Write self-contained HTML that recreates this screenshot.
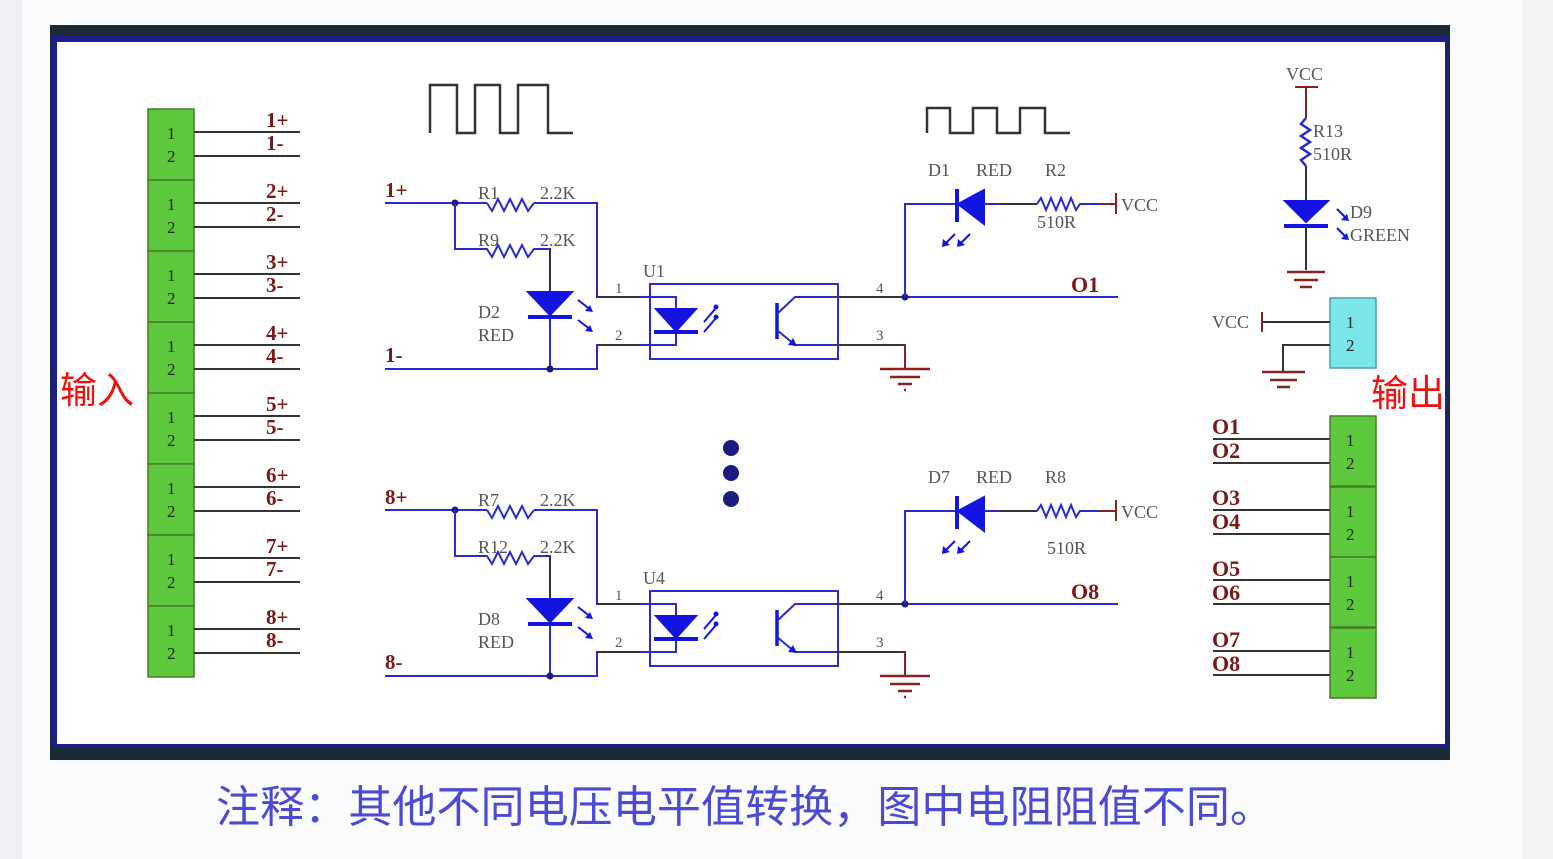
<!DOCTYPE html>
<html><head><meta charset="utf-8"><style>
html,body{margin:0;padding:0;background:#fbfcfd;}
body{width:1553px;height:859px;overflow:hidden;position:relative;}
svg{position:absolute;left:0;top:0;}
</style></head><body>
<svg width="1553" height="859" viewBox="0 0 1553 859" xmlns="http://www.w3.org/2000/svg">
<rect x="0" y="0" width="22" height="859" fill="#eef0f3"/>
<rect x="1522" y="0" width="31" height="859" fill="#f2f3f5"/>
<rect x="50" y="25" width="1400" height="735" fill="#1c2a35"/>
<rect x="52" y="36" width="1396" height="712" fill="#1c1c8a"/>
<rect x="57" y="42" width="1388" height="702" fill="#ffffff"/>

<g font-family="Liberation Serif, serif" fill="#7a1818" font-size="19">
<g id="lc">
<rect x="148" y="109" width="46" height="71" fill="#5ec83c" stroke="#4a7a2a" stroke-width="1.5"/>
<line x1="194" y1="132" x2="300" y2="132" stroke="#333" stroke-width="2"/>
<line x1="194" y1="156" x2="300" y2="156" stroke="#333" stroke-width="2"/>
<text x="167" y="139" font-size="17" fill="#222">1</text>
<text x="167" y="162" font-size="17" fill="#222">2</text>
</g>
<use href="#lc" y="71"/><use href="#lc" y="142"/><use href="#lc" y="213"/><use href="#lc" y="284"/><use href="#lc" y="355"/><use href="#lc" y="426"/><use href="#lc" y="497"/>
<g font-size="21" font-weight="bold">
<text x="266" y="127">1+</text><text x="266" y="150">1-</text>
<text x="266" y="198">2+</text><text x="266" y="221">2-</text>
<text x="266" y="269">3+</text><text x="266" y="292">3-</text>
<text x="266" y="340">4+</text><text x="266" y="363">4-</text>
<text x="266" y="411">5+</text><text x="266" y="434">5-</text>
<text x="266" y="482">6+</text><text x="266" y="505">6-</text>
<text x="266" y="553">7+</text><text x="266" y="576">7-</text>
<text x="266" y="624">8+</text><text x="266" y="647">8-</text>
</g>

<polyline points="430,133 430,85 457,85 457,133 475,133 475,85 500,85 500,133 518,133 518,85 548,85 548,133 573,133" fill="none" stroke="#333" stroke-width="2.5"/>
<polyline points="927,133 927,108 950,108 950,133 973,133 973,108 997,108 997,133 1020,133 1020,108 1045,108 1045,133 1070,133" fill="none" stroke="#333" stroke-width="2.5"/>

<g id="ck" fill="none" stroke-width="2">
<polyline points="385,203 487,203" stroke="#2a2ad0"/>
<circle cx="455" cy="203" r="3.5" fill="#1a1a80" stroke="none"/>
<polyline points="487,203 492,211 498,199 504,211 510,199 516,211 522,199 528,211 534,203" stroke="#2a2ad0"/>
<polyline points="534,203 597,203 597,297 650,297" stroke="#2a2ad0"/>
<polyline points="597,297 640,297" stroke="#333"/>
<polyline points="455,203 455,249 487,249 492,257 498,245 504,257 510,245 516,257 522,245 528,257 534,249 550,249 550,369" stroke="#2a2ad0"/>
<polyline points="550,249 550,290" stroke="#333"/>
<polygon points="528,292 572,292 550,315" fill="#1414e0" stroke="#1414e0"/>
<line x1="528" y1="317" x2="572" y2="317" stroke="#1414e0" stroke-width="4"/>
<line x1="578" y1="300" x2="591" y2="310" stroke="#1414e0"/><polygon points="593,312 585,311 590,305" fill="#1414e0" stroke="none"/>
<line x1="578" y1="320" x2="591" y2="330" stroke="#1414e0"/><polygon points="593,332 585,331 590,325" fill="#1414e0" stroke="none"/>
<polyline points="385,369 597,369 597,345 650,345" stroke="#2a2ad0"/>
<polyline points="597,345 640,345" stroke="#333"/>
<circle cx="550" cy="369" r="3.5" fill="#1a1a80" stroke="none"/>
<rect x="650" y="284" width="188" height="75" stroke="#2a2ad0"/>
<polyline points="650,297 676,297 676,345 650,345" stroke="#2a2ad0"/>
<polygon points="656,309 696,309 676,331" fill="#1414e0" stroke="#1414e0"/>
<line x1="654" y1="332" x2="698" y2="332" stroke="#1414e0" stroke-width="4"/>
<line x1="704" y1="322" x2="716" y2="308" stroke="#1414e0"/><circle cx="716" cy="307" r="2.5" fill="#1414e0" stroke="none"/>
<line x1="704" y1="332" x2="716" y2="318" stroke="#1414e0"/><circle cx="716" cy="317" r="2.5" fill="#1414e0" stroke="none"/>
<line x1="777" y1="303" x2="777" y2="339" stroke="#1414e0" stroke-width="3.5"/>
<polyline points="777,314 795,297 905,297" stroke="#2a2ad0"/>
<polyline points="777,330 795,345 905,345 905,368" stroke="#2a2ad0"/>
<polygon points="797,346 788,345 793,338" fill="#1414e0" stroke="none"/>
<polyline points="838,297 905,297" stroke="#333"/>
<polyline points="838,345 905,345 905,368" stroke="#333"/>
<polyline points="905,345 905,368" stroke="#8a2020"/>
<line x1="880" y1="369" x2="930" y2="369" stroke="#8a2020" stroke-width="2.5"/>
<line x1="890" y1="377" x2="920" y2="377" stroke="#8a2020" stroke-width="2.5"/>
<line x1="898" y1="384" x2="912" y2="384" stroke="#8a2020" stroke-width="2.5"/>
<line x1="904" y1="390" x2="906" y2="390" stroke="#8a2020" stroke-width="2.5"/>
<polyline points="905,297 1118,297" stroke="#2a2ad0"/>
<circle cx="905" cy="297" r="3.5" fill="#1a1a80" stroke="none"/>
<polyline points="905,297 905,204 957,204" stroke="#2a2ad0"/>
<line x1="957" y1="189" x2="957" y2="222" stroke="#1414e0" stroke-width="4"/>
<polygon points="958,204 984,190 984,224" fill="#1414e0" stroke="#1414e0"/>
<line x1="984" y1="204" x2="1000" y2="204" stroke="#2a2ad0"/>
<line x1="1000" y1="204" x2="1037" y2="204" stroke="#333"/>
<polyline points="1037,204 1041,198 1046,210 1051,198 1056,210 1061,198 1066,210 1071,198 1076,210 1080,204 1115,204" stroke="#2a2ad0"/>
<line x1="1100" y1="204" x2="1115" y2="204" stroke="#8a2020"/>
<line x1="1116" y1="193" x2="1116" y2="214" stroke="#8a2020"/>
<line x1="955" y1="234" x2="945" y2="244" stroke="#1414e0"/><polygon points="942,247 943,239 950,245" fill="#1414e0" stroke="none"/>
<line x1="970" y1="234" x2="960" y2="244" stroke="#1414e0"/><polygon points="957,247 958,239 965,245" fill="#1414e0" stroke="none"/>
</g>
<use href="#ck" y="307"/>

<g fill="#555" font-size="18">
<text x="478" y="199">R1</text><text x="540" y="199">2.2K</text>
<text x="478" y="246">R9</text><text x="540" y="246">2.2K</text>
<text x="478" y="318">D2</text><text x="478" y="341">RED</text>
<text x="643" y="277">U1</text>
<text x="615" y="293" font-size="15">1</text><text x="615" y="340" font-size="15">2</text>
<text x="876" y="293" font-size="15">4</text><text x="876" y="340" font-size="15">3</text>
<text x="928" y="176">D1</text><text x="976" y="176">RED</text><text x="1045" y="176">R2</text>
<text x="1037" y="228">510R</text><text x="1121" y="211">VCC</text>
<text x="478" y="506">R7</text><text x="540" y="506">2.2K</text>
<text x="478" y="553">R12</text><text x="540" y="553">2.2K</text>
<text x="478" y="625">D8</text><text x="478" y="648">RED</text>
<text x="643" y="584">U4</text>
<text x="615" y="600" font-size="15">1</text><text x="615" y="647" font-size="15">2</text>
<text x="876" y="600" font-size="15">4</text><text x="876" y="647" font-size="15">3</text>
<text x="928" y="483">D7</text><text x="976" y="483">RED</text><text x="1045" y="483">R8</text>
<text x="1047" y="554">510R</text><text x="1121" y="518">VCC</text>
</g>
<g font-size="21" font-weight="bold">
<text x="385" y="197">1+</text><text x="385" y="362">1-</text>
<text x="385" y="504">8+</text><text x="385" y="669">8-</text>
</g>
<text x="1071" y="292" font-size="22" font-weight="bold">O1</text>
<text x="1071" y="599" font-size="22" font-weight="bold">O8</text>

<circle cx="731" cy="448" r="8" fill="#1a1a80"/>
<circle cx="731" cy="473" r="8" fill="#1a1a80"/>
<circle cx="731" cy="499" r="8" fill="#1a1a80"/>

<g fill="none" stroke-width="2">
<line x1="1295" y1="87" x2="1318" y2="87" stroke="#8a2020"/>
<line x1="1306" y1="87" x2="1306" y2="118" stroke="#8a2020"/>
<polyline points="1306,118 1301,124 1310,130 1301,136 1310,142 1301,148 1310,154 1301,160 1306,166" stroke="#2a2ad0" stroke-width="2.5"/>
<line x1="1306" y1="166" x2="1306" y2="200" stroke="#333"/>
<polygon points="1285,201 1328,201 1306,222" fill="#1414e0" stroke="#1414e0"/>
<line x1="1284" y1="226" x2="1328" y2="226" stroke="#1414e0" stroke-width="4"/>
<line x1="1306" y1="226" x2="1306" y2="270" stroke="#333"/>
<line x1="1287" y1="272" x2="1325" y2="272" stroke="#8a2020" stroke-width="2.5"/>
<line x1="1294" y1="280" x2="1318" y2="280" stroke="#8a2020" stroke-width="2.5"/>
<line x1="1300" y1="287" x2="1312" y2="287" stroke="#8a2020" stroke-width="2.5"/>
<line x1="1337" y1="209" x2="1347" y2="219" stroke="#1414e0"/><polygon points="1349,221 1341,220 1347,214" fill="#1414e0" stroke="none"/>
<line x1="1337" y1="228" x2="1347" y2="238" stroke="#1414e0"/><polygon points="1349,240 1341,239 1347,233" fill="#1414e0" stroke="none"/>
<rect x="1330" y="298" width="46" height="70" fill="#7ae6ea" stroke="#4aa0b0" stroke-width="1.5"/>
<line x1="1262" y1="312" x2="1262" y2="332" stroke="#8a2020"/>
<line x1="1262" y1="322" x2="1330" y2="322" stroke="#333"/>
<polyline points="1330,345 1283,345 1283,372" stroke="#333"/>
<line x1="1262" y1="372" x2="1305" y2="372" stroke="#8a2020" stroke-width="2.5"/>
<line x1="1270" y1="380" x2="1297" y2="380" stroke="#8a2020" stroke-width="2.5"/>
<line x1="1277" y1="387" x2="1290" y2="387" stroke="#8a2020" stroke-width="2.5"/>
</g>
<g fill="#555" font-size="18">
<text x="1286" y="80">VCC</text>
<text x="1313" y="137">R13</text><text x="1313" y="160">510R</text>
<text x="1350" y="218">D9</text><text x="1350" y="241">GREEN</text>
<text x="1212" y="328">VCC</text>
</g>
<text x="1346" y="328" font-size="17" fill="#222">1</text>
<text x="1346" y="351" font-size="17" fill="#222">2</text>

<g id="rc">
<rect x="1330" y="416" width="46" height="70" fill="#5ec83c" stroke="#4a7a2a" stroke-width="1.5"/>
<line x1="1213" y1="439" x2="1330" y2="439" stroke="#333" stroke-width="2"/>
<line x1="1213" y1="463" x2="1330" y2="463" stroke="#333" stroke-width="2"/>
<text x="1346" y="446" font-size="17" fill="#222">1</text>
<text x="1346" y="469" font-size="17" fill="#222">2</text>
</g>
<use href="#rc" y="71"/><use href="#rc" y="141"/><use href="#rc" y="212"/>
<g font-size="22" font-weight="bold">
<text x="1212" y="434">O1</text><text x="1212" y="458">O2</text>
<text x="1212" y="505">O3</text><text x="1212" y="529">O4</text>
<text x="1212" y="576">O5</text><text x="1212" y="600">O6</text>
<text x="1212" y="647">O7</text><text x="1212" y="671">O8</text>
</g>
</g>

<text x="60" y="403" font-family="Liberation Sans, Noto Sans CJK SC, sans-serif" font-size="37" fill="#f01010">输入</text>
<text x="1371" y="406" font-family="Liberation Sans, Noto Sans CJK SC, sans-serif" font-size="37" fill="#f01010">输出</text>
<text x="216" y="822" font-family="Liberation Sans, Noto Sans CJK SC, sans-serif" font-size="44" fill="#4a4ad6" textLength="1058" lengthAdjust="spacingAndGlyphs">注释：其他不同电压电平值转换，图中电阻阻值不同。</text>
</svg>
</body></html>
